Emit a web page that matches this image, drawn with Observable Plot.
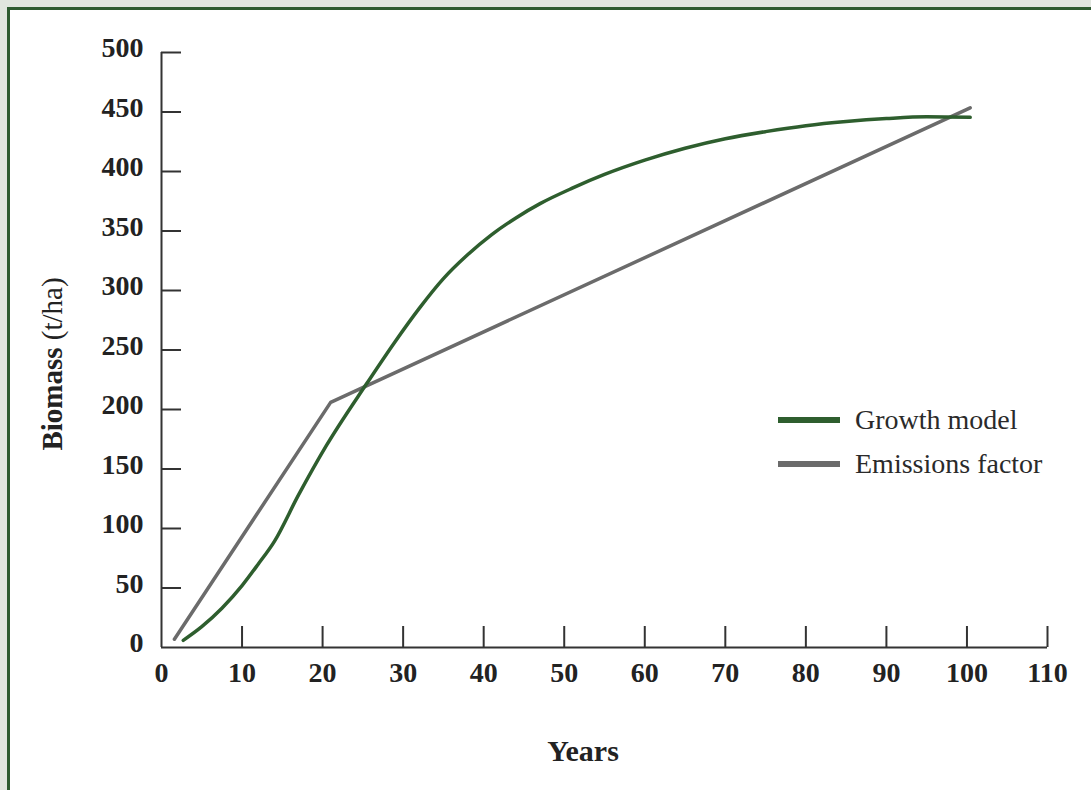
<!DOCTYPE html>
<html>
<head>
<meta charset="utf-8">
<script src="https://cdn.jsdelivr.net/npm/d3@7"></script>
<script src="https://cdn.jsdelivr.net/npm/@observablehq/plot@0.6"></script>
<style>
  html, body { margin: 0; padding: 0; }
  body { width: 1091px; height: 790px; overflow: hidden; background: #e1e5df; position: relative; font-family: "Liberation Serif", serif; }
  #frame { position: absolute; left: 7px; top: 7px; width: 1100px; height: 800px; border-top: 3px solid #2e5a30; border-left: 3px solid #2e5a30; background: #ffffff; }
  #chart { position: absolute; left: 0; top: 0; }
  #legend { position: absolute; left: 778px; top: 398px; color: #2a2a2a; font-size: 28px; }
  .row { display: flex; align-items: center; height: 44px; }
  .sw { width: 62px; height: 6px; margin-right: 15px; }
</style>
</head>
<body>
<div id="frame"></div>
<div id="chart"></div>
<div id="legend"></div>
<script>
// Data
const growthYears   = [2.7, 5, 7.5, 10, 12, 14, 17, 20.5, 25.5, 29, 32, 35, 38, 41, 44, 47, 51, 55, 60, 65, 70, 75, 80, 85, 90, 95, 100.4];
const growthBiomass = [6, 17.5, 33, 52, 70, 89, 128, 170, 222, 257, 285, 310, 330, 347, 361, 373, 386, 397.5, 409.5, 419.5, 427.5, 433.5, 438.5, 442, 444.5, 446, 445.5];
const emissionsYears   = [1.6, 21, 100.4];
const emissionsBiomass = [7, 206, 453.5];
const xTicks = [0, 10, 20, 30, 40, 50, 60, 70, 80, 90, 100, 110];
const yTicks = [0, 50, 100, 150, 200, 250, 300, 350, 400, 450, 500];
const seriesNames = ["Growth model", "Emissions factor"];
const seriesColors = ["#2e5e2e", "#6b6b6b"];

const growth = growthYears.map((x, i) => ({x, y: growthBiomass[i]}));
const emissions = emissionsYears.map((x, i) => ({x, y: emissionsBiomass[i]}));

const W = 1091, H = 790;
const mL = 161, mR = 44, mT = 52, mB = 143;
const frameW = W - mL - mR, frameH = H - mT - mB;

const chart = Plot.plot({
  width: W, height: H,
  marginLeft: mL, marginRight: mR, marginTop: mT, marginBottom: mB,
  style: {fontFamily: "Liberation Serif, serif", background: "transparent", overflow: "visible"},
  x: {domain: [0, 110]},
  y: {domain: [0, 500]},
  marks: [
    Plot.axisY(yTicks, {tickSize: 0, tickPadding: 18, fontSize: 28, fontWeight: "bold", fill: "#222", label: null, dy: -4}),
    Plot.axisX(xTicks, {tickSize: 0, tickPadding: 15, fontSize: 28, fontWeight: "bold", fill: "#222", label: null}),
    Plot.tickY(yTicks.filter(d => d > 0), {y: d => d, insetRight: frameW - 20, stroke: "#333", strokeWidth: 2}),
    Plot.tickX(xTicks.filter(d => d > 0), {x: d => d, insetTop: frameH - 21, stroke: "#333", strokeWidth: 2}),
    Plot.ruleX([0], {stroke: "#333", strokeWidth: 2}),
    Plot.ruleY([0], {stroke: "#333", strokeWidth: 2}),
    Plot.line(emissions, {x: "x", y: "y", stroke: seriesColors[1], strokeWidth: 3.5}),
    Plot.line(growth, {x: "x", y: "y", curve: "monotone-x", stroke: seriesColors[0], strokeWidth: 3.5})
  ]
});

const svg = d3.select(chart);
const yt = svg.append("text")
  .attr("transform", "translate(62,364) rotate(-90)")
  .attr("text-anchor", "middle")
  .attr("fill", "#222")
  .style("font-size", "29px");
yt.append("tspan").attr("font-weight", "bold").text("Biomass");
yt.append("tspan").text(" (t/ha)");
svg.append("text")
  .attr("x", 583).attr("y", 761)
  .attr("text-anchor", "middle")
  .attr("font-weight", "bold")
  .attr("fill", "#222")
  .style("font-size", "30px")
  .text("Years");

document.getElementById("chart").appendChild(chart);

const legend = d3.select("#legend");
seriesNames.forEach((name, i) => {
  const row = legend.append("div").attr("class", "row");
  row.append("div").attr("class", "sw").style("background", seriesColors[i]);
  row.append("span").text(name);
});
</script>
</body>
</html>
